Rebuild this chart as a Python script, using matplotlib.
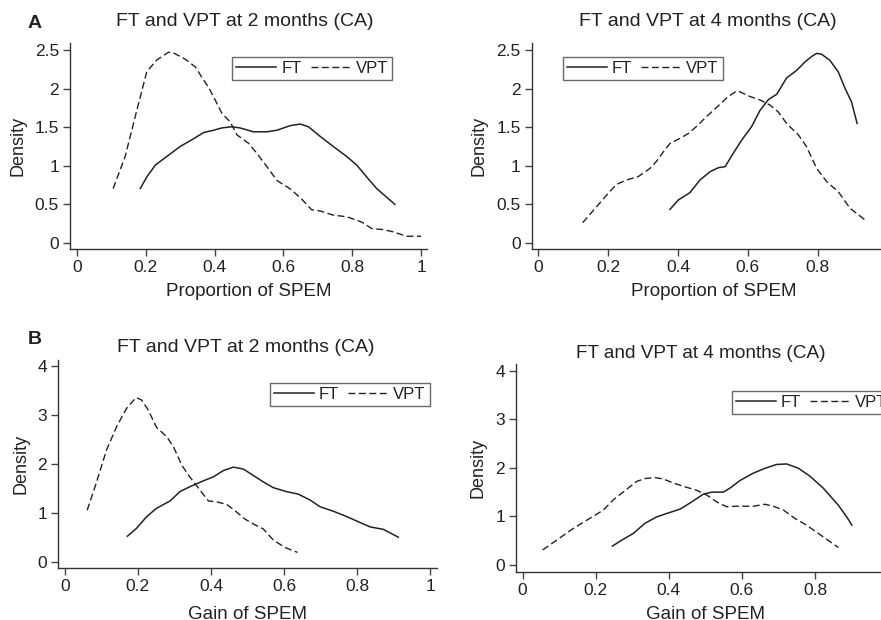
import matplotlib
matplotlib.use('Agg')
import matplotlib.pyplot as plt

plt.rcParams['font.family'] = ['Liberation Sans', 'DejaVu Sans']

# ---- data (kernel density curves) ----
# A, 2 months: proportion of SPEM
a2_vpt_x = [0.105, 0.140, 0.174, 0.203, 0.232, 0.266, 0.281, 0.315, 0.344, 0.368, 0.382,
            0.402, 0.421, 0.445, 0.465, 0.499, 0.523, 0.552, 0.581, 0.620, 0.653, 0.682,
            0.707, 0.745, 0.784, 0.828, 0.857, 0.891, 0.920, 0.958, 1.0]
a2_vpt_y = [0.705, 1.12, 1.72, 2.22, 2.37, 2.47, 2.46, 2.38, 2.28, 2.11, 2.02,
            1.85, 1.68, 1.57, 1.40, 1.29, 1.16, 0.99, 0.81, 0.70, 0.57, 0.43,
            0.415, 0.36, 0.34, 0.27, 0.186, 0.173, 0.143, 0.087, 0.087]
a2_ft_x = [0.184, 0.203, 0.228, 0.261, 0.300, 0.339, 0.368, 0.397, 0.421, 0.450, 0.474,
           0.513, 0.552, 0.581, 0.620, 0.649, 0.673, 0.707, 0.745, 0.784, 0.813, 0.842,
           0.871, 0.924]
a2_ft_y = [0.705, 0.856, 1.01, 1.12, 1.25, 1.35, 1.43, 1.46, 1.49, 1.505, 1.49,
           1.44, 1.44, 1.46, 1.52, 1.54, 1.505, 1.38, 1.25, 1.12, 1.01, 0.856,
           0.705, 0.50]

# A, 4 months: proportion of SPEM
a4_vpt_x = [0.127, 0.167, 0.196, 0.224, 0.253, 0.286, 0.320, 0.339, 0.358, 0.377, 0.406,
            0.430, 0.453, 0.482, 0.511, 0.544, 0.568, 0.578, 0.606, 0.635, 0.663, 0.687,
            0.711, 0.745, 0.768, 0.797, 0.826, 0.859, 0.893, 0.936]
a4_vpt_y = [0.26, 0.468, 0.62, 0.758, 0.815, 0.858, 0.966, 1.06, 1.18, 1.29, 1.356,
            1.42, 1.51, 1.64, 1.76, 1.90, 1.97, 1.96, 1.90, 1.855, 1.79, 1.70,
            1.55, 1.40, 1.25, 0.966, 0.793, 0.663, 0.446, 0.295]
a4_ft_x = [0.377, 0.401, 0.434, 0.463, 0.492, 0.516, 0.535, 0.558, 0.582, 0.611, 0.635,
           0.659, 0.683, 0.711, 0.740, 0.764, 0.783, 0.797, 0.811, 0.835, 0.859, 0.878,
           0.897, 0.913]
a4_ft_y = [0.433, 0.555, 0.65, 0.815, 0.923, 0.975, 0.988, 1.16, 1.33, 1.51, 1.72,
           1.86, 1.93, 2.14, 2.24, 2.35, 2.42, 2.46, 2.45, 2.37, 2.22, 2.01,
           1.83, 1.55]

# B, 2 months: gain of SPEM
b2_vpt_x = [0.061, 0.087, 0.114, 0.142, 0.169, 0.195, 0.210, 0.228, 0.251, 0.279, 0.297,
            0.320, 0.342, 0.370, 0.393, 0.416, 0.443, 0.466, 0.493, 0.521, 0.543, 0.571,
            0.603, 0.637]
b2_vpt_y = [1.05, 1.63, 2.28, 2.76, 3.13, 3.35, 3.30, 3.10, 2.74, 2.55, 2.35,
            1.97, 1.73, 1.46, 1.24, 1.22, 1.17, 1.04, 0.87, 0.75, 0.67, 0.44,
            0.29, 0.19]
b2_ft_x = [0.171, 0.196, 0.224, 0.251, 0.288, 0.315, 0.342, 0.379, 0.406, 0.434, 0.461,
           0.489, 0.516, 0.543, 0.571, 0.607, 0.639, 0.671, 0.699, 0.735, 0.772, 0.808,
           0.836, 0.872, 0.913]
b2_ft_y = [0.52, 0.68, 0.92, 1.09, 1.24, 1.43, 1.53, 1.65, 1.73, 1.86, 1.93,
           1.89, 1.76, 1.63, 1.51, 1.43, 1.38, 1.26, 1.12, 1.03, 0.92, 0.80,
           0.71, 0.66, 0.50]

# B, 4 months: gain of SPEM
b4_vpt_x = [0.055, 0.093, 0.139, 0.184, 0.221, 0.248, 0.285, 0.312, 0.335, 0.362, 0.385,
            0.412, 0.444, 0.476, 0.504, 0.531, 0.558, 0.586, 0.631, 0.663, 0.686, 0.714,
            0.745, 0.777, 0.809, 0.832, 0.864]
b4_vpt_y = [0.31, 0.51, 0.755, 0.96, 1.13, 1.34, 1.56, 1.72, 1.78, 1.80, 1.77,
            1.69, 1.61, 1.54, 1.44, 1.30, 1.20, 1.21, 1.21, 1.25, 1.21, 1.13,
            0.96, 0.82, 0.65, 0.53, 0.36]
b4_ft_x = [0.246, 0.271, 0.303, 0.335, 0.367, 0.394, 0.431, 0.463, 0.495, 0.518, 0.549,
           0.567, 0.595, 0.631, 0.663, 0.695, 0.723, 0.755, 0.786, 0.823, 0.864, 0.887,
           0.901]
b4_ft_y = [0.39, 0.51, 0.65, 0.86, 0.99, 1.06, 1.15, 1.30, 1.46, 1.50, 1.50,
           1.58, 1.74, 1.89, 1.99, 2.07, 2.08, 1.99, 1.83, 1.58, 1.23, 0.99,
           0.82]

x_ticks = [0, 0.2, 0.4, 0.6, 0.8, 1]
x_labels = ['0', '0.2', '0.4', '0.6', '0.8', '1']
a_yticks = [0, 0.5, 1, 1.5, 2, 2.5]
a_ylabels = ['0', '0.5', '1', '1.5', '2', '2.5']
b_yticks = [0, 1, 2, 3, 4]
b_ylabels = ['0', '1', '2', '3', '4']

W, H = 881, 620
INK = '#222222'
fig = plt.figure(figsize=(W / 100, H / 100), dpi=100)


def px_axes(x0, y0, x1, y1):
    return fig.add_axes([x0 / W, 1 - y1 / H, (x1 - x0) / W, (y1 - y0) / H])


def ftext(x, y, s, **kw):
    fig.text(x / W, 1 - y / H, s, color=INK, **kw)


panels = [
    dict(rect=(70, 43, 427, 249), xlim=(-0.0203, 1.0174), ylim=(-0.078, 2.59),
         yt=a_yticks, yl=a_ylabels, ft=(a2_ft_x, a2_ft_y), vpt=(a2_vpt_x, a2_vpt_y),
         xlabel='Proportion of SPEM', xpad=6, leg=(0.454, 0.932)),
    dict(rect=(531.7, 43, 895, 248.7), xlim=(-0.0189, 1.0215), ylim=(-0.078, 2.595),
         yt=a_yticks, yl=a_ylabels, ft=(a4_ft_x, a4_ft_y), vpt=(a4_vpt_x, a4_vpt_y),
         xlabel='Proportion of SPEM', xpad=6, leg=(0.085, 0.932)),
    dict(rect=(58.3, 360, 436.7, 567.7), xlim=(-0.018, 1.018), ylim=(-0.122, 4.116),
         yt=b_yticks, yl=b_ylabels, ft=(b2_ft_x, b2_ft_y), vpt=(b2_vpt_x, b2_vpt_y),
         xlabel='Gain of SPEM', xpad=9, leg=(0.559, 0.889)),
    dict(rect=(516, 364, 895, 571.7), xlim=(-0.018, 1.019), ylim=(-0.138, 4.138),
         yt=b_yticks, yl=b_ylabels, ft=(b4_ft_x, b4_ft_y), vpt=(b4_vpt_x, b4_vpt_y),
         xlabel='Gain of SPEM', xpad=6, leg=(0.569, 0.87)),
]

for p in panels:
    ax = px_axes(*p['rect'])
    ax.plot(*p['ft'], color=INK, lw=1.1, label='FT')
    ax.plot(*p['vpt'], color=INK, lw=1.0, ls=(0, (5, 2.5)), label='VPT')
    ax.set_xlim(*p['xlim'])
    ax.set_ylim(*p['ylim'])
    ax.set_xticks(x_ticks)
    ax.set_xticklabels(x_labels)
    ax.set_yticks(p['yt'])
    ax.set_yticklabels(p['yl'])
    ax.tick_params(direction='out', length=5, width=1, color='#444444',
                   labelsize=12.5, labelcolor=INK, pad=3)
    for side in ['top', 'right']:
        ax.spines[side].set_visible(False)
    for side in ['left', 'bottom']:
        ax.spines[side].set_color('#333333')
        ax.spines[side].set_linewidth(1)
    ax.set_xlabel(p['xlabel'], fontsize=13.5, color=INK, labelpad=p['xpad'])
    ax.set_ylabel('Density', fontsize=13, color=INK, labelpad=6)
    leg = ax.legend(loc='upper left', bbox_to_anchor=p['leg'], ncol=2, fontsize=12,
                    frameon=True, fancybox=False, handlelength=2.4, handletextpad=0.3,
                    columnspacing=0.55, borderpad=0.25, borderaxespad=0)
    leg.get_frame().set_edgecolor('#444444')
    leg.get_frame().set_linewidth(1)
    for t in leg.get_texts():
        t.set_color(INK)

# titles and panel letters
ftext(245, 22, 'FT and VPT at 2 months (CA)', fontsize=14, ha='center', va='center')
ftext(708, 22, 'FT and VPT at 4 months (CA)', fontsize=14, ha='center', va='center')
ftext(246, 347, 'FT and VPT at 2 months (CA)', fontsize=14, ha='center', va='center')
ftext(701, 353, 'FT and VPT at 4 months (CA)', fontsize=13.7, ha='center', va='center')
ftext(35, 24, 'A', fontsize=14, fontweight='bold', ha='center', va='center')
ftext(35, 340, 'B', fontsize=14, fontweight='bold', ha='center', va='center')

fig.savefig('out.png', dpi=100, facecolor='white')
